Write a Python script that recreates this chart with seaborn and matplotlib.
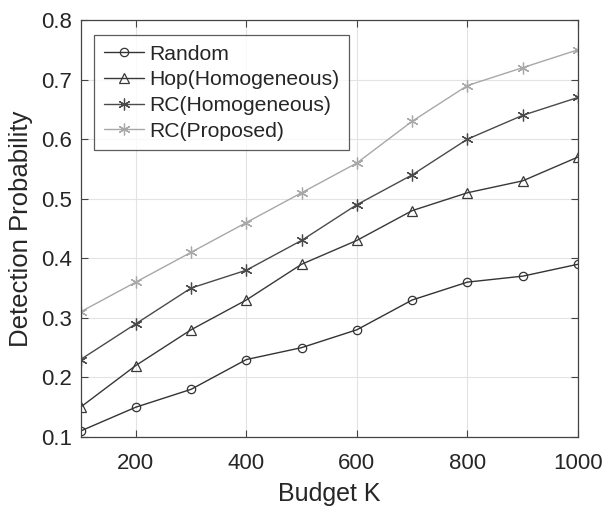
import matplotlib
matplotlib.use("Agg")
import matplotlib.pyplot as plt
import seaborn as sns
import pandas as pd

budget = [100, 200, 300, 400, 500, 600, 700, 800, 900, 1000]
random_p = [0.11, 0.15, 0.18, 0.23, 0.25, 0.28, 0.33, 0.36, 0.37, 0.39]
hop_homog = [0.15, 0.22, 0.28, 0.33, 0.39, 0.43, 0.48, 0.51, 0.53, 0.57]
rc_homog = [0.23, 0.29, 0.35, 0.38, 0.43, 0.49, 0.54, 0.60, 0.64, 0.67]
rc_proposed = [0.31, 0.36, 0.41, 0.46, 0.51, 0.56, 0.63, 0.69, 0.72, 0.75]
names = ["Random", "Hop(Homogeneous)", "RC(Homogeneous)", "RC(Proposed)"]
xticks = [200, 400, 600, 800, 1000]
yticks = [0.1, 0.2, 0.3, 0.4, 0.5, 0.6, 0.7, 0.8]

sns.set_theme(style="white")
plt.rcParams['font.family'] = ['Liberation Sans', 'DejaVu Sans']

rows = []
for n, vals in zip(names, [random_p, hop_homog, rc_homog, rc_proposed]):
    for b, v in zip(budget, vals):
        rows.append({"Budget": b, "P": v, "Method": n})
df = pd.DataFrame(rows)

colors = {"Random": "#333333", "Hop(Homogeneous)": "#383838",
          "RC(Homogeneous)": "#4a4a4a", "RC(Proposed)": "#a8a8a8"}
markers = {"Random": "o", "Hop(Homogeneous)": "^",
           "RC(Homogeneous)": (6, 2, 0), "RC(Proposed)": (6, 2, 0)}
msize = {"Random": 6, "Hop(Homogeneous)": 7.5, "RC(Homogeneous)": 8.5, "RC(Proposed)": 8.5}

fig = plt.figure(figsize=(6.03, 5.13), dpi=100)
ax = fig.add_axes([80.5/603, 1-437/513, (578-80.5)/603, (437-20)/513])

for n in names:
    sub = df[df.Method == n]
    sns.lineplot(data=sub, x="Budget", y="P", ax=ax, color=colors[n],
                 marker=markers[n], markersize=msize[n], markerfacecolor="none",
                 markeredgecolor=colors[n], markeredgewidth=0.9, linewidth=1.0,
                 label=n)

ax.set_xlim(100, 1000)
ax.set_ylim(0.1, 0.8)
ax.set_xticks(xticks)
ax.set_yticks(yticks)
ax.set_yticklabels([f"{t:.1f}" for t in yticks])
ax.grid(True, color="#e3e3e3", linewidth=0.8)
ax.set_axisbelow(True)
for s in ax.spines.values():
    s.set_color("#444444")
    s.set_linewidth(0.9)
ax.tick_params(direction="in", length=5, width=0.8, color="#444444",
               labelsize=16, labelcolor="#262626", top=True, right=True,
               bottom=True, left=True)
ax.tick_params(axis="x", pad=11.5)
ax.tick_params(axis="y", pad=6)
ax.set_xlabel("Budget K", fontsize=18, color="#262626", labelpad=6)
ax.set_ylabel("Detection Probability", fontsize=18.5, color="#262626", labelpad=6)

leg = ax.legend(loc="upper left", bbox_to_anchor=(0.028, 0.964), borderaxespad=0,
                fontsize=15.2, frameon=True, fancybox=False, borderpad=0.45,
                handlelength=1.9, handletextpad=0.25, labelspacing=0.32)
leg.get_frame().set_edgecolor("#333333")
leg.get_frame().set_linewidth(0.9)
for t in leg.get_texts():
    t.set_color("#262626")

fig.savefig("out.png", dpi=100)
